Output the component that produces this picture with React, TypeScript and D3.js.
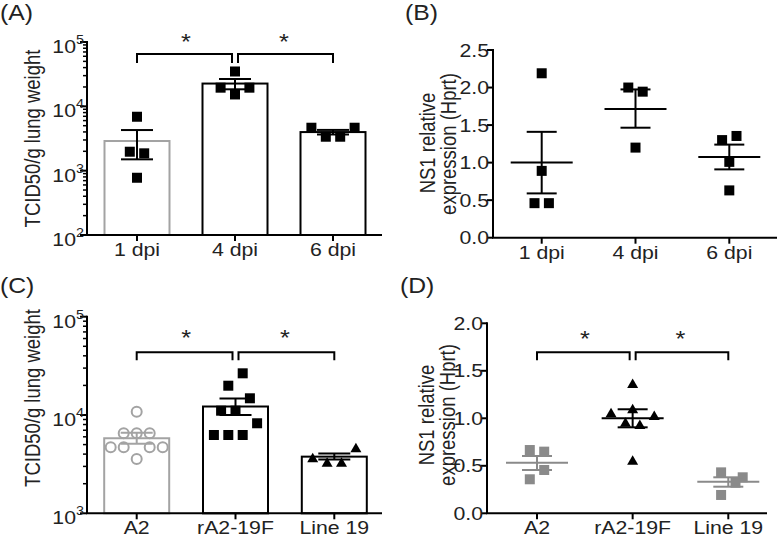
import React from "react";
import * as d3 from "d3";

const FONT = "'Liberation Sans', Arial, Helvetica, sans-serif";
const GREY_BAR = "#a3a3a3";
const GREY_PT = "#8a8a8a";
const SX = 1.15; // horizontal stretch of the reference's lettering
const FS = 18.5;

// ---------- Panel A data ----------
const catsA = ["1 dpi", "4 dpi", "6 dpi"];
const meanA = [2890, 22600, 3980];
const semHiA = [4280, 26600, 4300];
const semLoA = [1500, 18400, 3650];
const ptsA = [
  [6890, 1970, 1860, 776],
  [34800, 19500, 19500, 15300],
  [4650, 3370, 3370, 4650],
];
const jitA = [
  [0, -1, 1, 0],
  [0, -2, 2, 0],
  [-3, -1, 1, 3],
];

// ---------- Panel B data ----------
const catsB = ["1 dpi", "4 dpi", "6 dpi"];
const ptsB = [
  [2.19, 0.89, 0.46, 0.46],
  [2.0, 1.945, 1.2],
  [1.3, 1.355, 1.01, 0.63],
];
const jitB = [
  [0, 0, -1, 1],
  [-1, 1, 0],
  [-1, 1, 0, 0],
];
const meanB = [1.0, 1.715, 1.075];
const semHiB = [1.41, 1.975, 1.24];
const semLoB = [0.59, 1.465, 0.91];
const ticksB = [0, 0.5, 1.0, 1.5, 2.0, 2.5];

// ---------- Panel C data ----------
const catsC = ["A2", "rA2-19F", "Line 19"];
const meanC = [5800, 12200, 3770];
const semHiC = [6600, 14700, 4050];
const semLoC = [5100, 10000, 3530];
const ptsC = [
  [10800, 6510, 6510, 6510, 4690, 4690, 4690, 4690, 3570],
  [26550, 19860, 14790, 11060, 11060, 8240, 6260, 6260, 6260],
  [3630, 3270, 3270, 4580],
];
const jitC = [
  [0, -1, 0, 1, -2, -1, 1, 2, 0],
  [1, -1, 2, -2, 0, 3, -3, -1, 1],
  [-3, -1, 1, 3],
];

// ---------- Panel D data ----------
const catsD = ["A2", "rA2-19F", "Line 19"];
const ptsD = [
  [0.666, 0.649, 0.456, 0.358],
  [1.361, 1.095, 1.053, 1.024, 0.954, 0.929, 0.554],
  [0.431, 0.379, 0.322, 0.193],
];
const jitD = [
  [-1, 1, 1, -1],
  [0, 0, -3, 3, -1, 1, 0],
  [-1, 2, 1, -1],
];
const meanD = [0.533, 1.0, 0.333];
const semHiD = [0.603, 1.095, 0.379];
const semLoD = [0.456, 0.905, 0.28];
const ticksD = [0, 0.5, 1.0, 1.5, 2.0];

const JIT = 7.2;
const JIT_CIRCLE = 13;
const SW = 2;

function T({ x, y, anchor = "start", size = FS, rotate = false, children }: any) {
  const tr = rotate
    ? `translate(${x},${y}) scale(${SX},1) rotate(-90)`
    : `translate(${x},${y}) scale(${SX},1)`;
  return (
    <text transform={tr} textAnchor={anchor} fontFamily={FONT} fontSize={size} fill="#222">
      {children}
    </text>
  );
}

function LogYAxis({ x, scale, lo, hi }: { x: number; scale: any; lo: number; hi: number }) {
  const majors: number[] = [];
  const minors: number[] = [];
  for (let e = lo; e <= hi + 1e-9; e *= 10) {
    majors.push(e);
    if (e < hi) for (let m = 2; m <= 9; m++) minors.push(e * m);
  }
  return (
    <g>
      <line x1={x} x2={x} y1={scale(hi) - 1} y2={scale(lo)} stroke="#000" strokeWidth={SW} />
      {minors.map((v, i) => (
        <line key={"m" + i} x1={x - 4} x2={x} y1={scale(v)} y2={scale(v)} stroke="#000" strokeWidth={1.5} />
      ))}
      {majors.map((v, i) => (
        <g key={"M" + i}>
          <line x1={x - 7} x2={x} y1={scale(v)} y2={scale(v)} stroke="#000" strokeWidth={SW} />
          <T x={x - 3} y={scale(v) + 11} anchor="end">
            10
            <tspan fontSize={12.5} dy={-9}>
              {Math.round(Math.log10(v))}
            </tspan>
          </T>
        </g>
      ))}
    </g>
  );
}

function LinYAxis({ x, scale, ticks }: { x: number; scale: any; ticks: number[] }) {
  const lo = ticks[0];
  const hi = ticks[ticks.length - 1];
  return (
    <g>
      <line x1={x} x2={x} y1={scale(hi) - 1} y2={scale(lo)} stroke="#000" strokeWidth={SW} />
      {ticks.map((v, i) => (
        <g key={i}>
          <line x1={x - 6} x2={x} y1={scale(v)} y2={scale(v)} stroke="#000" strokeWidth={SW} />
          <T x={x - 4} y={scale(v) + 6.5} anchor="end">
            {v.toFixed(1)}
          </T>
        </g>
      ))}
    </g>
  );
}

function XAxis({ x0, x1, y, xs, cats }: { x0: number; x1: number; y: number; xs: any; cats: string[] }) {
  return (
    <g>
      <line x1={x0 - 1} x2={x1} y1={y} y2={y} stroke="#000" strokeWidth={SW} />
      {cats.map((c, i) => (
        <g key={i}>
          <line x1={xs(c)} x2={xs(c)} y1={y} y2={y + 6} stroke="#000" strokeWidth={SW} />
          <T x={xs(c)} y={y + 21} anchor="middle">
            {c}
          </T>
        </g>
      ))}
    </g>
  );
}

function ErrBar({ cx, yHi, yLo, half, color }: { cx: number; yHi: number; yLo: number; half: number; color: string }) {
  return (
    <g stroke={color} strokeWidth={SW}>
      <line x1={cx} x2={cx} y1={yHi} y2={yLo} />
      <line x1={cx - half} x2={cx + half} y1={yHi} y2={yHi} />
      <line x1={cx - half} x2={cx + half} y1={yLo} y2={yLo} />
    </g>
  );
}

function Square({ x, y, color }: { x: number; y: number; color: string }) {
  return <rect x={x - 5} y={y - 5} width={10} height={10} fill={color} />;
}
function Tri({ x, y, color }: { x: number; y: number; color: string }) {
  return <path d={`M${x},${y - 5.5}L${x + 5.5},${y + 4}L${x - 5.5},${y + 4}Z`} fill={color} />;
}
function Circ({ x, y, color }: { x: number; y: number; color: string }) {
  return <circle cx={x} cy={y} r={5} fill="none" stroke={color} strokeWidth={2} />;
}

function Brackets({ xs, cats, y, legs, starY }: { xs: any; cats: string[]; y: number; legs: number; starY: number }) {
  const a = xs(cats[0]);
  const b = xs(cats[1]);
  const c = xs(cats[2]);
  const gap = 3;
  return (
    <g>
      <path d={`M${a},${y + legs}V${y}H${b - gap}V${y + legs}`} fill="none" stroke="#000" strokeWidth={SW} />
      <path d={`M${b + gap},${y + legs}V${y}H${c}V${y + legs}`} fill="none" stroke="#000" strokeWidth={SW} />
      <T x={(a + b) / 2} y={starY} anchor="middle" size={22}>*</T>
      <T x={(b + c) / 2} y={starY} anchor="middle" size={22}>*</T>
    </g>
  );
}

export default function App() {
  // Panel A geometry
  const axA = 87, endA = 382;
  const yA = d3.scaleLog().domain([100, 100000]).range([235, 42]);
  const xA = d3.scalePoint().domain(catsA).range([137, 333]);

  // Panel B geometry
  const axB = 493, endB = 777;
  const yB = d3.scaleLinear().domain([0, 2.5]).range([237.7, 50]);
  const xB = d3.scalePoint().domain(catsB).range([541.7, 729.3]);

  // Panel C geometry
  const axC = 87, endC = 382;
  const yC = d3.scaleLog().domain([1000, 100000]).range([513.3, 316.7]);
  const xC = d3.scalePoint().domain(catsC).range([136.7, 334.3]);

  // Panel D geometry
  const axD = 487, endD = 767;
  const yD = d3.scaleLinear().domain([0, 2.0]).range([513.3, 323.3]);
  const xD = d3.scalePoint().domain(catsD).range([537, 728.3]);

  const BW = 65;

  return (
    <svg width={778} height={540} style={{ position: "absolute", left: 0, top: 0, display: "block", background: "#fff" }}>
      <rect width={778} height={540} fill="#fff" />

      {/* ---------------- Panel A ---------------- */}
      <T x={0} y={20} size={21.5}>(A)</T>
      <T x={40} y={138.5} rotate anchor="middle">TCID50/g lung weight</T>
      {catsA.map((c, i) => (
        <rect key={"ba" + i} x={xA(c)! - BW / 2} y={yA(meanA[i])} width={BW} height={yA(100) - yA(meanA[i])}
          fill="#fff" stroke={i === 0 ? GREY_BAR : "#000"} strokeWidth={SW} />
      ))}
      {catsA.map((c, i) => (
        <ErrBar key={"ea" + i} cx={xA(c)!} yHi={yA(semHiA[i])} yLo={yA(semLoA[i])} half={16} color="#000" />
      ))}
      {ptsA.map((arr, i) =>
        arr.map((v, j) => <Square key={`pa${i}-${j}`} x={xA(catsA[i])! + jitA[i][j] * JIT} y={yA(v)} color="#000" />)
      )}
      <LogYAxis x={axA} scale={yA} lo={100} hi={100000} />
      <XAxis x0={axA} x1={endA} y={yA(100)} xs={xA} cats={catsA} />
      <Brackets xs={xA} cats={catsA} y={54} legs={9} starY={49} />

      {/* ---------------- Panel B ---------------- */}
      <T x={405} y={20} size={21.5}>(B)</T>
      <T x={435} y={143} rotate anchor="middle">NS1 relative</T>
      <T x={455.5} y={144} rotate anchor="middle">expression (Hprt)</T>
      {ptsB.map((arr, i) =>
        arr.map((v, j) => <Square key={`pb${i}-${j}`} x={xB(catsB[i])! + jitB[i][j] * JIT} y={yB(v)} color="#000" />)
      )}
      {catsB.map((c, i) => (
        <g key={"mb" + i}>
          <line x1={xB(c)! - 31} x2={xB(c)! + 31} y1={yB(meanB[i])} y2={yB(meanB[i])} stroke="#000" strokeWidth={SW} />
          <ErrBar cx={xB(c)!} yHi={yB(semHiB[i])} yLo={yB(semLoB[i])} half={15} color="#000" />
        </g>
      ))}
      <LinYAxis x={axB} scale={yB} ticks={ticksB} />
      <XAxis x0={axB} x1={endB} y={yB(0)} xs={xB} cats={catsB} />

      {/* ---------------- Panel C ---------------- */}
      <T x={0} y={293} size={21.5}>(C)</T>
      <T x={40} y={398} rotate anchor="middle">TCID50/g lung weight</T>
      {catsC.map((c, i) => (
        <rect key={"bc" + i} x={xC(c)! - BW / 2} y={yC(meanC[i])} width={BW} height={yC(1000) - yC(meanC[i])}
          fill="#fff" stroke={i === 0 ? GREY_BAR : "#000"} strokeWidth={SW} />
      ))}
      {catsC.map((c, i) => (
        <ErrBar key={"ec" + i} cx={xC(c)!} yHi={yC(semHiC[i])} yLo={yC(semLoC[i])} half={16}
          color={i === 0 ? GREY_BAR : "#000"} />
      ))}
      {ptsC[0].map((v, j) => (
        <Circ key={`pc0-${j}`} x={xC(catsC[0])! + jitC[0][j] * JIT_CIRCLE} y={yC(v)} color={GREY_BAR} />
      ))}
      {ptsC[1].map((v, j) => (
        <Square key={`pc1-${j}`} x={xC(catsC[1])! + jitC[1][j] * JIT} y={yC(v)} color="#000" />
      ))}
      {ptsC[2].map((v, j) => (
        <Tri key={`pc2-${j}`} x={xC(catsC[2])! + jitC[2][j] * JIT} y={yC(v)} color="#000" />
      ))}
      <LogYAxis x={axC} scale={yC} lo={1000} hi={100000} />
      <XAxis x0={axC} x1={endC} y={yC(1000)} xs={xC} cats={catsC} />
      <Brackets xs={xC} cats={catsC} y={352.3} legs={8} starY={345} />

      {/* ---------------- Panel D ---------------- */}
      <T x={400} y={293} size={21.5}>(D)</T>
      <T x={434} y={415} rotate anchor="middle">NS1 relative</T>
      <T x={454.5} y={415} rotate anchor="middle">expression (Hprt)</T>
      {ptsD.map((arr, i) =>
        arr.map((v, j) =>
          i === 1 ? (
            <Tri key={`pd${i}-${j}`} x={xD(catsD[i])! + jitD[i][j] * JIT} y={yD(v)} color="#000" />
          ) : (
            <Square key={`pd${i}-${j}`} x={xD(catsD[i])! + jitD[i][j] * JIT} y={yD(v)} color={GREY_PT} />
          )
        )
      )}
      {catsD.map((c, i) => {
        const col = i === 1 ? "#000" : GREY_PT;
        return (
          <g key={"md" + i}>
            <line x1={xD(c)! - 31} x2={xD(c)! + 31} y1={yD(meanD[i])} y2={yD(meanD[i])} stroke={col} strokeWidth={SW} />
            <ErrBar cx={xD(c)!} yHi={yD(semHiD[i])} yLo={yD(semLoD[i])} half={15} color={col} />
          </g>
        );
      })}
      <LinYAxis x={axD} scale={yD} ticks={ticksD} />
      <XAxis x0={axD} x1={endD} y={yD(0)} xs={xD} cats={catsD} />
      <Brackets xs={xD} cats={catsD} y={352.3} legs={8} starY={346} />
    </svg>
  );
}
